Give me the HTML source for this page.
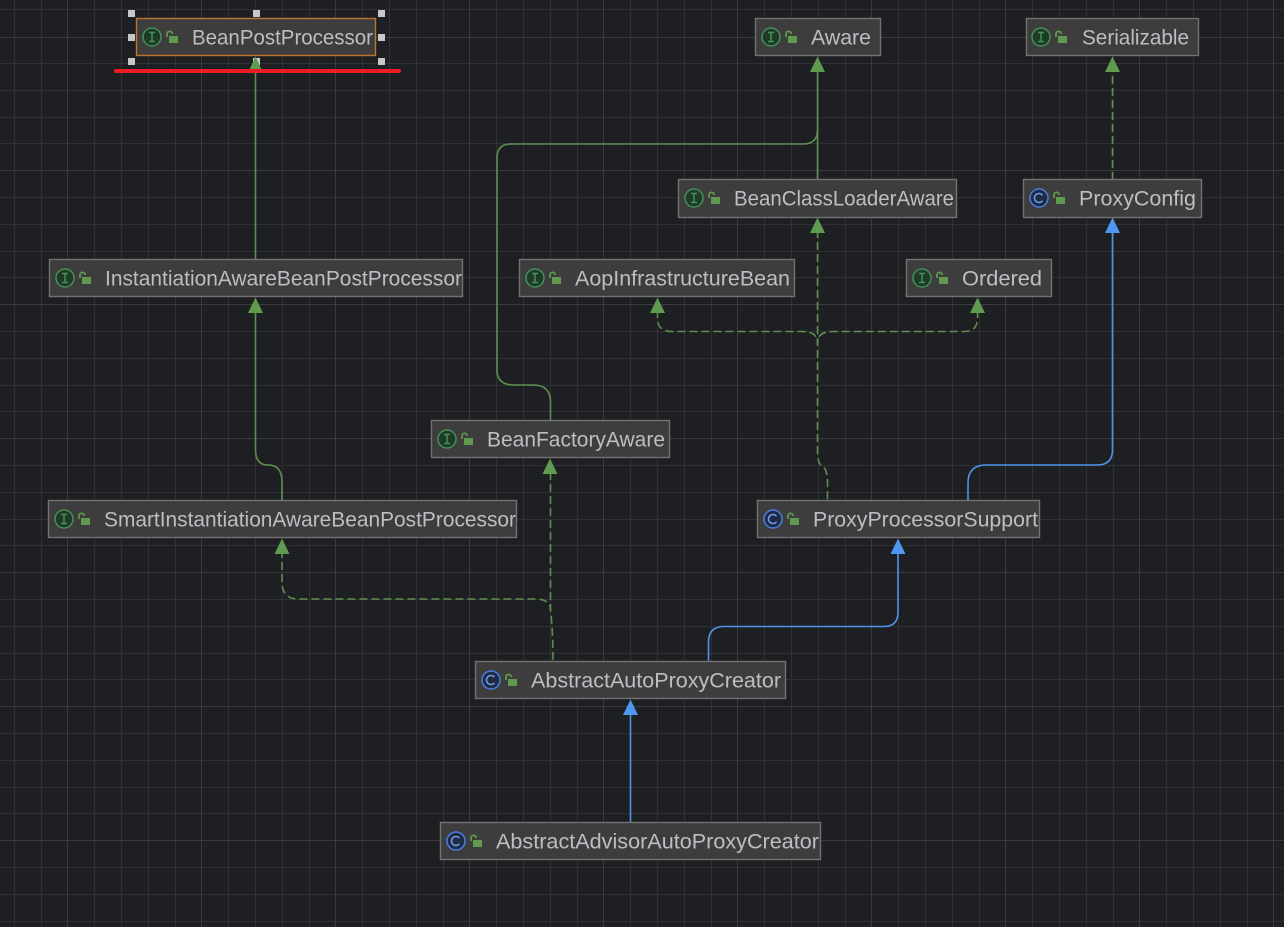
<!DOCTYPE html>
<html><head><meta charset="utf-8"><style>
html,body{margin:0;padding:0;background:#1e1f22;width:1284px;height:927px;overflow:hidden}
svg{display:block}
text{font-family:"Liberation Sans",sans-serif;font-size:21px;fill:#bcbec4}
.n{fill:#3d3d3d;stroke:#727272;stroke-width:1.400}
.g{fill:none;stroke:#5e8f4e;stroke-width:1.600}
.d{fill:none;stroke:#5e8f4e;stroke-width:1.600;stroke-dasharray:8 4}
.b{fill:none;stroke:#4f93e8;stroke-width:1.600}
.ag{fill:#5f9a4e}.ab{fill:#4f97f0}
.ii{fill:#1f3a26;stroke:#45905a;stroke-width:1.500}
.it{fill:none;stroke:#45905a;stroke-width:1.500}
.ci{fill:#1f2a44;stroke:#4a7fe0;stroke-width:1.500}
.ct{fill:none;stroke:#6f9fee;stroke-width:1.500}
.lk{fill:#5f9a4e}.ls{fill:none;stroke:#5f9a4e;stroke-width:1.800}
.h{fill:#c8c8c8}
</style></head><body>
<svg width="1284" height="927" viewBox="0 0 1284 927" xmlns="http://www.w3.org/2000/svg">
<defs>
<g id="li"><path class="ls" d="M0 4v-3a2.600 2.600 0 0 1 5.200 0"/><rect class="lk" x="2" y="3" width="9" height="7"/></g>
<g id="I"><circle class="ii" cx="0" cy="0" r="9"/><path class="it" d="M-3-4.500H3M-3 4.500H3M0-4.500V4.500"/></g>
<g id="C"><circle class="ci" cx="0" cy="0" r="9"/><path class="ct" d="M3.500-2.800A4.500 4.500 0 1 0 3.500 2.800"/></g>
</defs>
<rect width="1284" height="927" fill="#1e1f22"/>
<path shape-rendering="crispEdges" stroke="#303134" stroke-width="1" fill="none" d="M14.500 0V927M41.500 0V927M94.500 0V927M121.500 0V927M148.500 0V927M175.500 0V927M228.500 0V927M255.500 0V927M282.500 0V927M309.500 0V927M362.500 0V927M389.500 0V927M416.500 0V927M443.500 0V927M496.500 0V927M523.500 0V927M550.500 0V927M577.500 0V927M630.500 0V927M657.500 0V927M684.500 0V927M711.500 0V927M764.500 0V927M791.500 0V927M818.500 0V927M845.500 0V927M898.500 0V927M925.500 0V927M952.500 0V927M979.500 0V927M1032.500 0V927M1059.500 0V927M1086.500 0V927M1113.500 0V927M1166.500 0V927M1193.500 0V927M1220.500 0V927M1247.500 0V927
M0 9.500H1284M0 63.500H1284M0 90.500H1284M0 117.500H1284M0 143.500H1284M0 197.500H1284M0 224.500H1284M0 251.500H1284M0 277.500H1284M0 331.500H1284M0 358.500H1284M0 385.500H1284M0 411.500H1284M0 465.500H1284M0 492.500H1284M0 519.500H1284M0 545.500H1284M0 599.500H1284M0 626.500H1284M0 653.500H1284M0 679.500H1284M0 733.500H1284M0 760.500H1284M0 787.500H1284M0 813.500H1284M0 867.500H1284M0 894.500H1284M0 921.500H1284"/>
<path shape-rendering="crispEdges" stroke="#3a3b3e" stroke-width="1" fill="none" d="M67.500 0V927M201.500 0V927M335.500 0V927M469.500 0V927M603.500 0V927M737.500 0V927M871.500 0V927M1005.500 0V927M1139.500 0V927M1273.500 0V927M0 37.500H1284M0 170.500H1284M0 304.500H1284M0 438.500H1284M0 572.500H1284M0 706.500H1284M0 840.500H1284"/>

<!-- edges -->
<path class="g" d="M255.500 260V70"/>
<path class="g" d="M817.500 180V70"/>
<path class="g" d="M817.500 130Q817.500 144 803 144H511Q497 144 497 158V370Q497 385 514 385H533Q550.500 385 550.500 402V421"/>
<path class="g" d="M282 501V482Q282 465 268 465Q255.500 465 255.500 450V310"/>
<path class="d" d="M1112.500 180V70"/>
<path class="d" d="M817.500 230V450Q817.500 463 821 465Q827.500 468 827.500 482V501"/>
<path class="d" d="M657.500 310V318Q657.500 331.500 672 331.500H802Q817.500 331.500 817.500 343"/>
<path class="d" d="M977.500 310V318Q977.500 331.500 964 331.500H833Q817.500 331.500 817.500 343"/>
<path class="d" d="M550.500 472V610Q553 630 553 662"/>
<path class="d" d="M282 550V585Q284 599 298 599H535Q550.500 599 550.500 610"/>
<path class="b" d="M968 501V483Q968 465 986 465H1097Q1112.500 465 1112.500 450V230"/>
<path class="b" d="M708.500 662V642Q708.500 626.500 724 626.500H884Q898 626.500 898 612V550"/>
<path class="b" d="M630.500 823V712"/>

<!-- arrowheads -->
<g class="ag">
<path d="M817.500 56.500l-7.500 15.500h15z"/>
<path d="M1112.500 56.500l-7.500 15.500h15z"/>
<path d="M817.500 217.500l-7.500 15.500h15z"/>
<path d="M255.500 297.500l-7.500 15.500h15z"/>
<path d="M657.500 297.500l-7.500 15.500h15z"/>
<path d="M977.500 297.500l-7.500 15.500h15z"/>
<path d="M550 458.500l-7.500 15.500h15z"/>
<path d="M282 538.500l-7.500 15.500h15z"/>
</g>
<g class="ab">
<path d="M1112.500 217.500l-7.500 15.500h15z"/>
<path d="M898 538.500l-7.500 15.500h15z"/>
<path d="M630.500 699.500l-7.500 15.500h15z"/>
</g>

<!-- nodes -->
<rect class="n" x="136.500" y="18.500" width="239" height="37" style="stroke:#c0752c"/>
<use href="#I" x="152" y="37"/><use href="#li" x="167" y="33"/>
<text x="192" y="44.500" textLength="181" lengthAdjust="spacingAndGlyphs">BeanPostProcessor</text>

<rect class="n" x="755.500" y="18.500" width="125" height="37"/>
<use href="#I" x="771" y="37"/><use href="#li" x="786" y="33"/>
<text x="811" y="44.500" textLength="60" lengthAdjust="spacingAndGlyphs">Aware</text>

<rect class="n" x="1026.500" y="18.500" width="172" height="37"/>
<use href="#I" x="1041" y="37"/><use href="#li" x="1056" y="33"/>
<text x="1082" y="44.500" textLength="107" lengthAdjust="spacingAndGlyphs">Serializable</text>

<rect class="n" x="678.500" y="179.500" width="278" height="38"/>
<use href="#I" x="694" y="198"/><use href="#li" x="709" y="194"/>
<text x="734" y="205.500" textLength="220" lengthAdjust="spacingAndGlyphs">BeanClassLoaderAware</text>

<rect class="n" x="1023.500" y="179.500" width="178" height="38"/>
<use href="#C" x="1039" y="198"/><use href="#li" x="1054" y="194"/>
<text x="1079" y="205.500" textLength="117" lengthAdjust="spacingAndGlyphs">ProxyConfig</text>

<rect class="n" x="49.500" y="259.500" width="413" height="37"/>
<use href="#I" x="65" y="278"/><use href="#li" x="80" y="274"/>
<text x="105" y="285.500" textLength="357" lengthAdjust="spacingAndGlyphs">InstantiationAwareBeanPostProcessor</text>

<rect class="n" x="519.500" y="259.500" width="275" height="37"/>
<use href="#I" x="535" y="278"/><use href="#li" x="550" y="274"/>
<text x="575" y="285.500" textLength="215" lengthAdjust="spacingAndGlyphs">AopInfrastructureBean</text>

<rect class="n" x="906.500" y="259.500" width="145" height="37"/>
<use href="#I" x="922" y="278"/><use href="#li" x="937" y="274"/>
<text x="962" y="285.500" textLength="80" lengthAdjust="spacingAndGlyphs">Ordered</text>

<rect class="n" x="431.500" y="420.500" width="238" height="37"/>
<use href="#I" x="447" y="439"/><use href="#li" x="462" y="435"/>
<text x="487" y="446.500" textLength="178" lengthAdjust="spacingAndGlyphs">BeanFactoryAware</text>

<rect class="n" x="48.500" y="500.500" width="468" height="37"/>
<use href="#I" x="64" y="519"/><use href="#li" x="79" y="515"/>
<text x="104" y="526.500" textLength="412" lengthAdjust="spacingAndGlyphs">SmartInstantiationAwareBeanPostProcessor</text>

<rect class="n" x="757.500" y="500.500" width="282" height="37"/>
<use href="#C" x="773" y="519"/><use href="#li" x="788" y="515"/>
<text x="813" y="526.500" textLength="225" lengthAdjust="spacingAndGlyphs">ProxyProcessorSupport</text>

<rect class="n" x="475.500" y="661.500" width="310" height="37"/>
<use href="#C" x="491" y="680"/><use href="#li" x="506" y="676"/>
<text x="531" y="687.500" textLength="250" lengthAdjust="spacingAndGlyphs">AbstractAutoProxyCreator</text>

<rect class="n" x="440.500" y="822.500" width="380" height="37"/>
<use href="#C" x="456" y="841"/><use href="#li" x="471" y="837"/>
<text x="496" y="848.500" textLength="323" lengthAdjust="spacingAndGlyphs">AbstractAdvisorAutoProxyCreator</text>

<!-- selection handles -->
<g class="h">
<rect x="128" y="10" width="7" height="7"/><rect x="253" y="10" width="7" height="7"/><rect x="378" y="10" width="7" height="7"/>
<rect x="128" y="34" width="7" height="7"/><rect x="378" y="34" width="7" height="7"/>
<rect x="128" y="58" width="7" height="7"/><rect x="253" y="58" width="7" height="7"/><rect x="378" y="58" width="7" height="7"/>
</g>
<path d="M255.500 56.500l-7 15h14z" class="ag"/>
<rect x="114" y="69" width="287" height="4" rx="2" fill="#ed1c24"/>
</svg>
</body></html>
